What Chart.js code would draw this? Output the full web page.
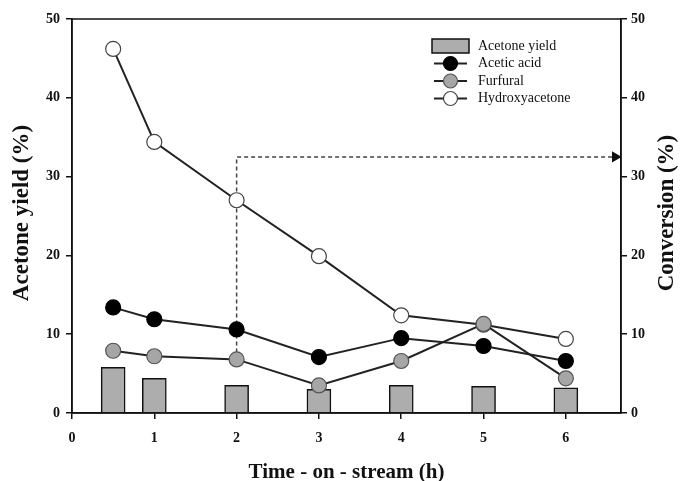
<!DOCTYPE html>
<html>
<head>
<meta charset="utf-8">
<script src="https://cdn.jsdelivr.net/npm/chart.js@4.4.1/dist/chart.umd.min.js"></script>
<style>
  html, body { margin: 0; padding: 0; background: #fff; }
  canvas { display: block; }
</style>
</head>
<body>
<canvas id="c" width="687" height="481"></canvas>
<script>
const hours = [0.5, 1, 2, 3, 4, 5, 6];
const acetoneYield = [5.8, 4.4, 3.5, 3.0, 3.5, 3.4, 3.2];
const aceticAcid = [13.4, 11.9, 10.6, 7.1, 9.5, 8.5, 6.6];
const furfural = [7.9, 7.2, 6.8, 3.5, 6.6, 11.3, 4.4];
const hydroxyacetone = [46.2, 34.4, 27.0, 19.9, 12.4, 11.2, 9.4];
const xTicks = [0, 1, 2, 3, 4, 5, 6];
const yTicks = [0, 10, 20, 30, 40, 50];
// dashed guide: from conversion at 2 h up and across to the right axis
const guideX = [2, 2, 6.6];
const guideY = [6.8, 32.5, 32.5];

const pts = (ys) => ys.map((y, i) => ({ x: hours[i], y }));
const serif = '"Liberation Serif", "DejaVu Serif", serif';

// frame round the plot + both vertical titles (read bottom to top)
const framePlugin = {
  id: 'frame',
  afterDraw(chart) {
    const { ctx, chartArea: a } = chart;
    ctx.save();
    ctx.strokeStyle = '#111';
    ctx.lineWidth = 1.5;
    ctx.strokeRect(a.left, a.top, a.right - a.left, a.bottom - a.top);
    ctx.font = 'bold 23px ' + serif;
    ctx.fillStyle = '#111';
    ctx.textAlign = 'center';
    ctx.textBaseline = 'middle';
    [[22, 'Acetone yield (%)'], [667, 'Conversion (%)']].forEach(([x, t]) => {
      ctx.save();
      ctx.translate(x, 213);
      ctx.rotate(-Math.PI / 2);
      ctx.fillText(t, 0, 0);
      ctx.restore();
    });
    ctx.restore();
  },
};

const legendPlugin = {
  id: 'boxLegend',
  afterDraw(chart) {
    const { ctx } = chart;
    const x0 = 432, y0 = 46, dy = 17.5;
    ctx.save();
    ctx.font = '14px ' + serif;
    ctx.textBaseline = 'middle';
    chart.data.datasets.forEach((ds, i) => {
      if (!ds.label) return;
      const y = y0 + i * dy;
      if (ds.type === 'bar') {
        ctx.fillStyle = ds.backgroundColor;
        ctx.strokeStyle = '#111';
        ctx.lineWidth = 1.5;
        ctx.fillRect(x0, y - 7, 37, 14);
        ctx.strokeRect(x0, y - 7, 37, 14);
      } else {
        ctx.strokeStyle = '#222';
        ctx.lineWidth = 1.8;
        ctx.beginPath();
        ctx.moveTo(x0 + 2, y);
        ctx.lineTo(x0 + 35, y);
        ctx.stroke();
        ctx.beginPath();
        ctx.arc(x0 + 18.5, y, 7, 0, Math.PI * 2);
        ctx.fillStyle = ds.pointBackgroundColor;
        ctx.fill();
        ctx.strokeStyle = ds.pointBorderColor;
        ctx.lineWidth = 1.2;
        ctx.stroke();
      }
      ctx.fillStyle = '#111';
      ctx.fillText(ds.label, x0 + 46, y);
    });
    ctx.restore();
  },
};

const lineDs = (label, data, fill, border) => ({
  type: 'line',
  label,
  data: pts(data),
  yAxisID: 'y2',
  borderColor: '#222',
  borderWidth: 2,
  pointRadius: 7.5,
  pointBackgroundColor: fill,
  pointBorderColor: border,
  pointBorderWidth: 1.2,
  order: 1,
});

const tickFont = { family: serif, size: 14, weight: 'bold' };

new Chart(document.getElementById('c'), {
  data: {
    datasets: [
      {
        type: 'bar',
        label: 'Acetone yield',
        data: pts(acetoneYield),
        yAxisID: 'y',
        backgroundColor: '#adadad',
        borderColor: '#111',
        borderWidth: 1.5,
        barThickness: 24,
        order: 3,
      },
      lineDs('Acetic acid', aceticAcid, '#000', '#000'),
      lineDs('Furfural', furfural, '#a6a6a6', '#555'),
      lineDs('Hydroxyacetone', hydroxyacetone, '#fff', '#444'),
      {
        type: 'line',
        label: '',
        data: guideX.map((x, i) => ({ x, y: guideY[i] })),
        yAxisID: 'y2',
        borderColor: '#444',
        borderWidth: 1.5,
        borderDash: [4, 3],
        pointRadius: [0, 0, 5],
        pointStyle: 'triangle',
        rotation: 90,
        pointBackgroundColor: '#111',
        pointBorderColor: '#111',
        order: 2,
      },
    ],
  },
  options: {
    responsive: false,
    animation: false,
    layout: { padding: { top: 19, left: 0, right: 0, bottom: 0 } },
    plugins: { legend: { display: false }, tooltip: { enabled: false } },
    scales: {
      x: {
        type: 'linear',
        min: 0,
        max: 6.67,
        offset: false,
        afterBuildTicks: (s) => { s.ticks = xTicks.map((v) => ({ value: v })); },
        afterFit: (s) => { s.height = 68; },
        grid: { drawOnChartArea: false, offset: false, tickLength: 6, color: '#111', lineWidth: 1.5 },
        border: { color: '#111', width: 1.5 },
        ticks: { color: '#111', font: tickFont, padding: 11 },
        title: {
          display: true,
          text: 'Time - on - stream (h)',
          color: '#111',
          font: { family: serif, size: 21, weight: 'bold' },
          padding: { top: 4, bottom: -4 },
        },
      },
      y: {
        position: 'left',
        min: 0,
        max: 50,
        afterBuildTicks: (s) => { s.ticks = yTicks.map((v) => ({ value: v })); },
        afterFit: (s) => { s.width = 72; },
        grid: { drawOnChartArea: false, tickLength: 6, color: '#111', lineWidth: 1.5 },
        border: { color: '#111', width: 1.5 },
        ticks: { color: '#111', font: tickFont, padding: 6 },
      },
      y2: {
        position: 'right',
        min: 0,
        max: 50,
        afterBuildTicks: (s) => { s.ticks = yTicks.map((v) => ({ value: v })); },
        afterFit: (s) => { s.width = 66; },
        grid: { drawOnChartArea: false, tickLength: 6, color: '#111', lineWidth: 1.5 },
        border: { color: '#111', width: 1.5 },
        ticks: { color: '#111', font: tickFont, padding: 4 },
      },
    },
  },
  plugins: [framePlugin, legendPlugin],
});
</script>
</body>
</html>
